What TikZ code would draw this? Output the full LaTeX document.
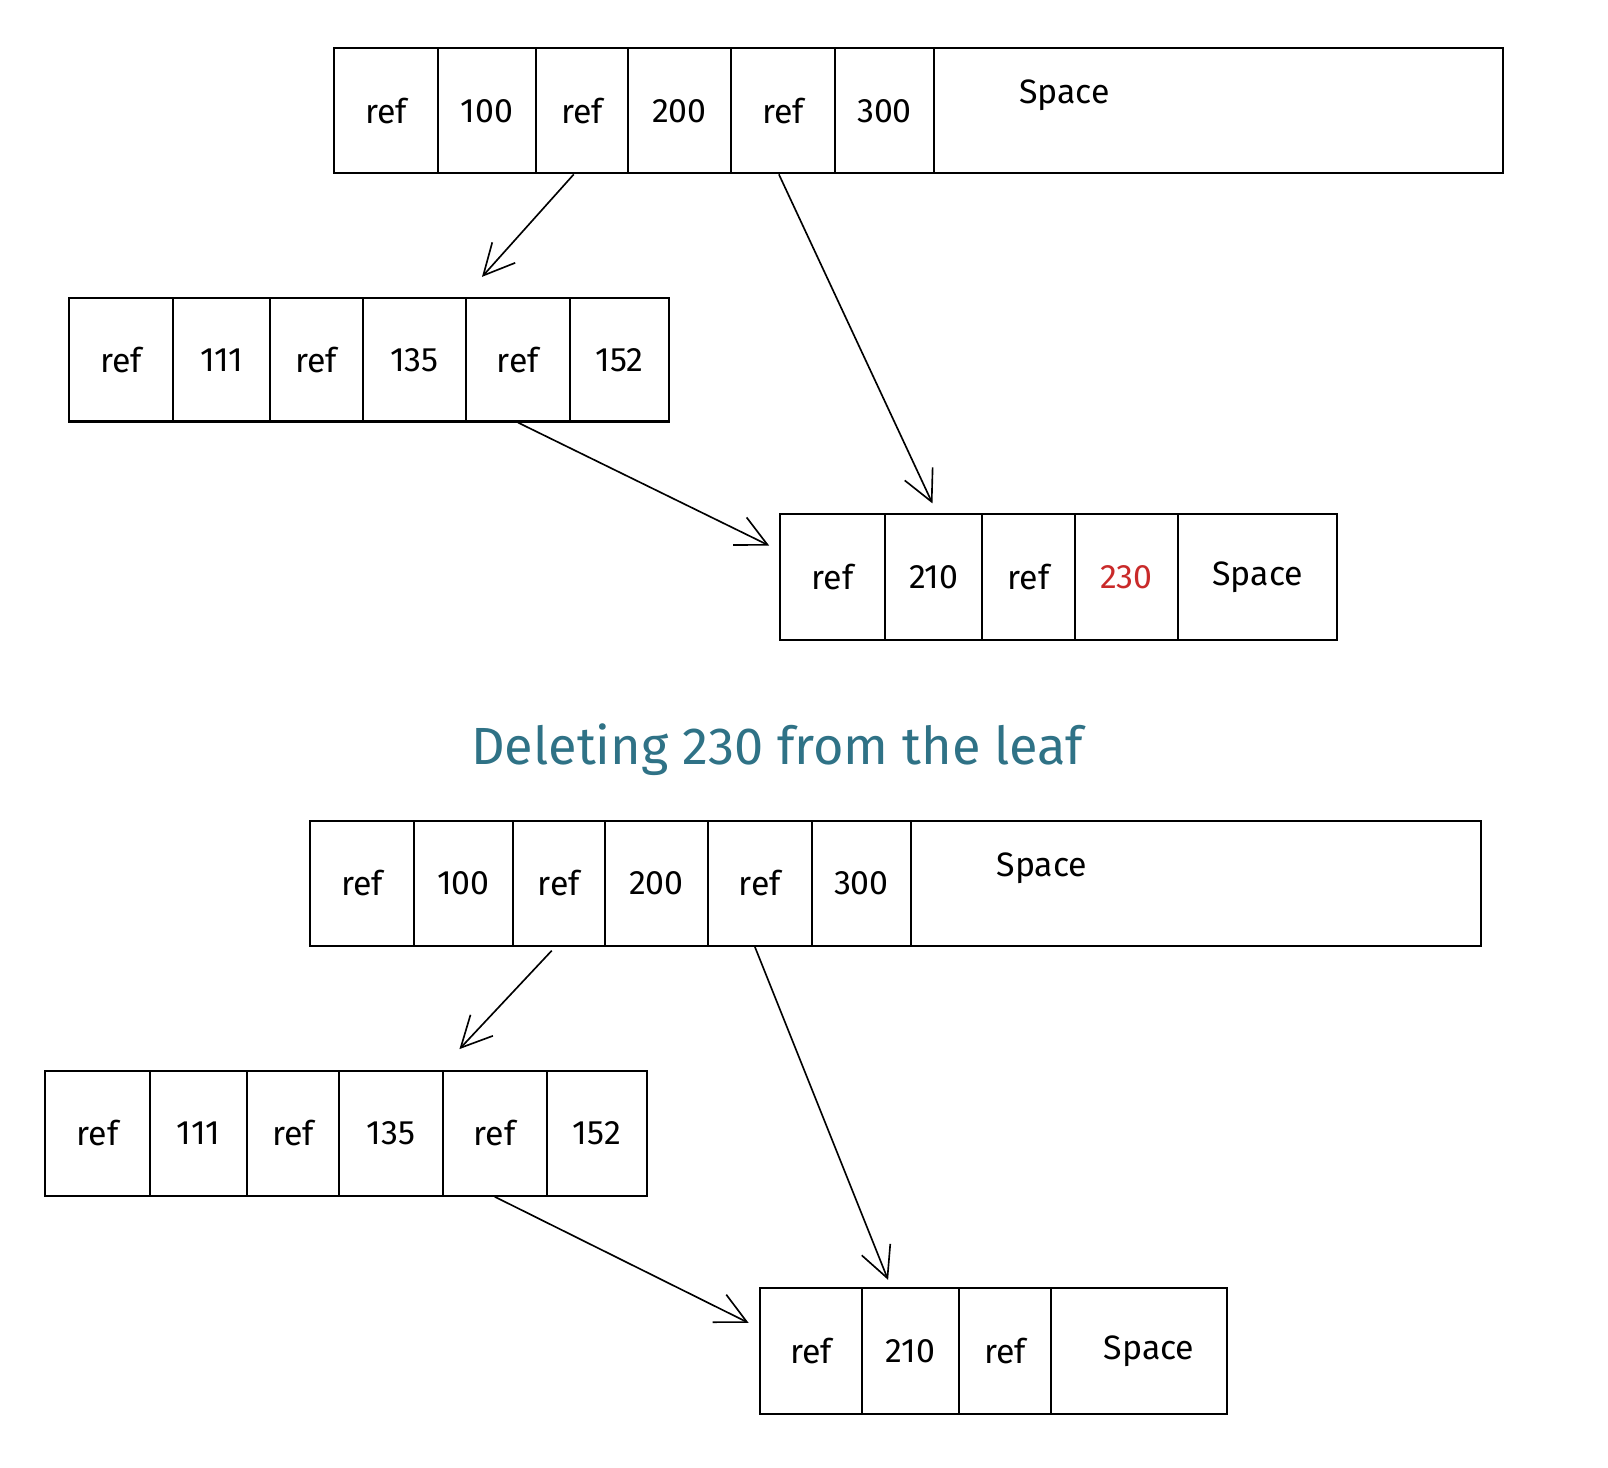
\documentclass[tikz,border=0pt]{standalone}
\usepackage{fontspec}
\setmainfont{Fira Sans}
\usetikzlibrary{arrows.meta,calc}
\definecolor{titlecol}{HTML}{2F7286}
\definecolor{delred}{HTML}{C92A2A}
\tikzset{
  cell/.style={draw, line width=2pt, inner sep=0pt, anchor=north west,
    font=\fontsize{33}{38}\selectfont},
  lbl/.style={inner sep=0pt, font=\fontsize{33}{38}\selectfont},
  arr/.style={line width=1.6pt, -{Straight Barb[length=30pt,width=30pt,line width=1.6pt]}},
  ttl/.style={inner sep=0pt, text=titlecol, font=\fontsize{51}{58}\selectfont}
}
\begin{document}
\begin{tikzpicture}[x=1pt,y=-1pt]
\useasboundingbox (0,0) rectangle (1568,1431);
% ---------- upper half ----------
% top row
\node[cell, minimum width=101, minimum height=122] (t1) at (325,46) {ref};
\node[cell, minimum width=96,  minimum height=122] (t2) at (426,46) {100};
\node[cell, minimum width=89,  minimum height=122] (t3) at (522,46) {ref};
\node[cell, minimum width=101, minimum height=122] (t4) at (611,46) {200};
\node[cell, minimum width=101, minimum height=122] (t5) at (712,46) {ref};
\node[cell, minimum width=97,  minimum height=122] (t6) at (813,46) {300};
\node[cell, minimum width=555, minimum height=122] (t7) at (910,46) {};
\node[lbl] (tsp) at (1038,93) {Space};
% left row
\node[cell, minimum width=102, minimum height=120] (l1) at (66,290) {ref};
\node[cell, minimum width=94,  minimum height=120] (l2) at (168,290) {111};
\node[cell, minimum width=91,  minimum height=120] (l3) at (262,290) {ref};
\node[cell, minimum width=100, minimum height=120] (l4) at (353,290) {135};
\node[cell, minimum width=102, minimum height=120] (l5) at (453,290) {ref};
\node[cell, minimum width=96,  minimum height=120] (l6) at (555,290) {152};
% right row
\node[cell, minimum width=102, minimum height=123] (r1) at (760,500) {ref};
\node[cell, minimum width=95,  minimum height=123] (r2) at (862,500) {210};
\node[cell, minimum width=90,  minimum height=123] (r3) at (957,500) {ref};
\node[cell, minimum width=101, minimum height=123, text=delred] (r4) at (1047,500) {230};
\node[cell, minimum width=155, minimum height=123] (r5) at (1148,500) {Space};
% arrows
\coordinate (e1) at (470,270);
\coordinate (e3) at (750,532);
\draw[arr] ([xshift=-8pt]t3.south) -- (e1);
\draw[arr, shorten >=10pt] ([xshift=-4pt]t5.south) -- ([xshift=3pt]r2.north);
\draw[arr] (l5.south) -- (e3);
% title
\node[ttl] (title) at (758,731) {Deleting 230 from the leaf};
% ---------- lower half ----------
\node[cell, minimum width=102, minimum height=121] (bt1) at (301,800) {ref};
\node[cell, minimum width=96,  minimum height=121] (bt2) at (403,800) {100};
\node[cell, minimum width=90,  minimum height=121] (bt3) at (499,800) {ref};
\node[cell, minimum width=100, minimum height=121] (bt4) at (589,800) {200};
\node[cell, minimum width=102, minimum height=121] (bt5) at (689,800) {ref};
\node[cell, minimum width=96,  minimum height=121] (bt6) at (791,800) {300};
\node[cell, minimum width=556, minimum height=121] (bt7) at (887,800) {};
\node[lbl] (btsp) at (1016,847) {Space};
% left row
\node[cell, minimum width=102, minimum height=122] (bl1) at (43,1043) {ref};
\node[cell, minimum width=95,  minimum height=122] (bl2) at (145,1043) {111};
\node[cell, minimum width=90,  minimum height=122] (bl3) at (240,1043) {ref};
\node[cell, minimum width=101, minimum height=122] (bl4) at (330,1043) {135};
\node[cell, minimum width=101, minimum height=122] (bl5) at (431,1043) {ref};
\node[cell, minimum width=98,  minimum height=122] (bl6) at (532,1043) {152};
% right row
\node[cell, minimum width=100, minimum height=123] (br1) at (740,1255) {ref};
\node[cell, minimum width=94,  minimum height=123] (br2) at (840,1255) {210};
\node[cell, minimum width=90,  minimum height=123] (br3) at (934,1255) {ref};
\node[cell, minimum width=171, minimum height=123] (br4) at (1024,1255) {\hspace*{20pt}Space};
% arrows
\coordinate (f1) at (448,1023);
\coordinate (f2) at (866,1248);
\coordinate (f3) at (730,1290);
\draw[arr] ([xshift=-7pt,yshift=-4pt]bt3.south) -- (f1);
\draw[arr] ([xshift=-5pt]bt5.south) -- (f2);
\draw[arr] (bl5.south) -- (f3);
\end{tikzpicture}
\end{document}
